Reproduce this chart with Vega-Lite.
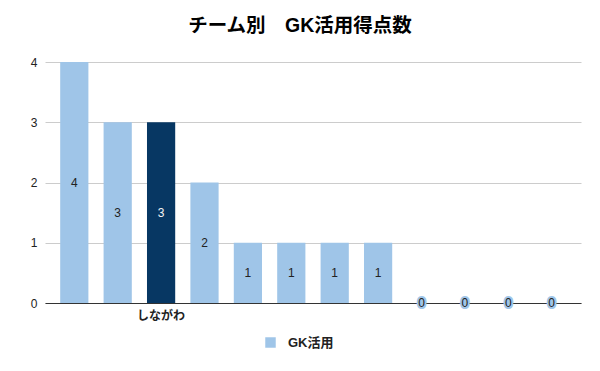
{
  "$schema": "https://vega.github.io/schema/vega-lite/v6.json",
  "autosize": {"type": "none"},
  "width": 536,
  "height": 241,
  "padding": {"left": 45, "top": 62, "right": 19, "bottom": 68},
  "background": "white",
  "title": {
    "text": "チーム別　GK活用得点数",
    "font": "Liberation Sans, Noto Sans CJK JP",
    "fontSize": 19.5,
    "fontWeight": "bold",
    "color": "#000000",
    "anchor": "middle",
    "dx": -13,
    "offset": 20
  },
  "config": {
    "view": {"stroke": null},
    "font": "Liberation Sans, Noto Sans CJK JP"
  },
  "data": {
    "values": [
      {"team": " ", "value": 4, "series": "GK活用"},
      {"team": "  ", "value": 3, "series": "GK活用"},
      {"team": "しながわ", "value": 3, "series": "GK活用"},
      {"team": "   ", "value": 2, "series": "GK活用"},
      {"team": "    ", "value": 1, "series": "GK活用"},
      {"team": "     ", "value": 1, "series": "GK活用"},
      {"team": "      ", "value": 1, "series": "GK活用"},
      {"team": "       ", "value": 1, "series": "GK活用"},
      {"team": "        ", "value": 0, "series": "GK活用"},
      {"team": "         ", "value": 0, "series": "GK活用"},
      {"team": "          ", "value": 0, "series": "GK活用"},
      {"team": "           ", "value": 0, "series": "GK活用"}
    ]
  },
  "encoding": {
    "x": {
      "field": "team",
      "type": "nominal",
      "sort": null,
      "scale": {"paddingInner": 0.35, "paddingOuter": 0.35},
      "axis": {
        "title": null,
        "labelAngle": 0,
        "ticks": false,
        "domainColor": "#333333",
        "domainWidth": 1,
        "labelFont": "Liberation Sans, Noto Sans CJK JP",
        "labelFontSize": 12,
        "labelFontWeight": "bold",
        "labelColor": "#222222",
        "labelPadding": 7
      }
    }
  },
  "layer": [
    {
      "mark": {"type": "bar"},
      "encoding": {
        "y": {
          "field": "value",
          "type": "quantitative",
          "scale": {"domain": [0, 4], "nice": false},
          "axis": {
            "title": null,
            "values": [0, 1, 2, 3, 4],
            "labelOverlap": false,
            "domain": false,
            "ticks": false,
            "gridColor": "#cccccc",
            "labelFont": "Liberation Sans",
            "labelFontSize": 12,
            "labelColor": "#222222",
            "labelPadding": 8
          }
        },
        "color": {
          "condition": {"test": "datum.team === 'しながわ'", "value": "#073763"},
          "field": "series",
          "type": "nominal",
          "scale": {"domain": ["GK活用"], "range": ["#9fc5e8"]},
          "legend": {
            "title": null,
            "orient": "none",
            "legendX": 219,
            "legendY": 274,
            "symbolType": "square",
            "symbolSize": 110,
            "symbolStrokeWidth": 0,
            "labelFont": "Liberation Sans, Noto Sans CJK JP",
            "labelFontSize": 13,
            "labelFontWeight": "bold",
            "labelColor": "#222222",
            "labelOffset": 11
          }
        }
      }
    },
    {
      "transform": [{"filter": "datum.value === 0"}],
      "mark": {"type": "text", "fontSize": 12, "font": "Liberation Sans", "stroke": "#9fc5e8", "strokeWidth": 4, "strokeJoin": "round", "fill": "#9fc5e8", "baseline": "middle"},
      "encoding": {
        "y": {"field": "value", "type": "quantitative", "scale": {"domain": [0, 8], "nice": false}, "axis": null},
        "text": {"field": "value", "type": "quantitative"}
      }
    },
    {
      "mark": {"type": "text", "fontSize": 12, "font": "Liberation Sans", "baseline": "middle"},
      "encoding": {
        "y": {"field": "value", "type": "quantitative", "scale": {"domain": [0, 8], "nice": false}, "axis": null},
        "text": {"field": "value", "type": "quantitative"},
        "color": {
          "condition": {"test": "datum.team === 'しながわ'", "value": "#f3f3f3"},
          "value": "#222222"
        }
      }
    }
  ],
  "resolve": {"scale": {"y": "independent", "color": "independent"}}
}
